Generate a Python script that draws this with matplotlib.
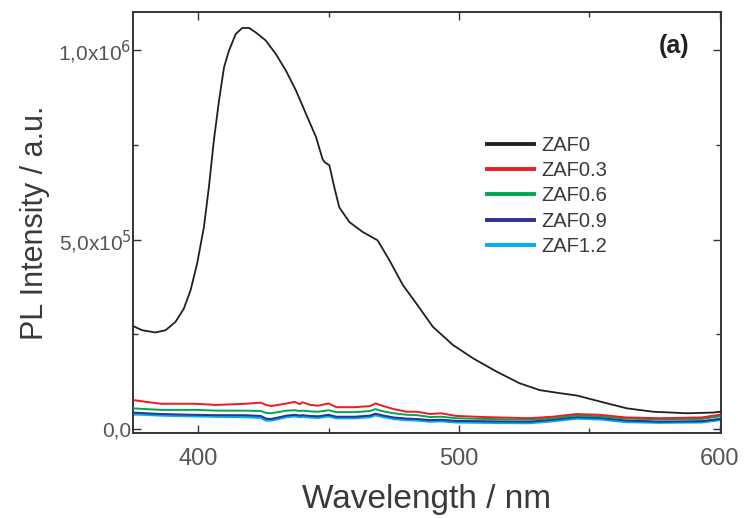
import numpy as np
import matplotlib
matplotlib.use('Agg')
import matplotlib.pyplot as plt
from matplotlib.ticker import FixedLocator

plt.rcParams['font.family'] = ['Liberation Sans', 'DejaVu Sans']

# ZAF0 (black) spectrum
wl_zaf0 = [375, 378.5, 383.6, 387.5, 391.3, 394.5, 397.1, 399.6, 402.2, 404.1, 406, 408,
           409.9, 411.8, 414.4, 416.9, 419.5, 422.1, 425.9, 429.8, 433.6, 437.5, 441.3,
           445.2, 447.7, 448.5, 450.3, 452.2, 454.1, 458, 463.1, 468.8, 473.3, 478.5,
           483.6, 490, 497.7, 505.4, 514.4, 523.3, 531, 538.7, 545.1, 554.1, 564.4,
           574.6, 587.5, 597.7, 600]
zaf0 = [0.272, 0.261, 0.255, 0.261, 0.283, 0.318, 0.367, 0.437, 0.533, 0.638, 0.761, 0.867,
        0.954, 0.998, 1.042, 1.058, 1.058, 1.046, 1.025, 0.989, 0.946, 0.893, 0.832,
        0.770, 0.712, 0.704, 0.696, 0.638, 0.585, 0.546, 0.520, 0.498, 0.446, 0.380,
        0.332, 0.270, 0.222, 0.187, 0.152, 0.121, 0.103, 0.095, 0.089, 0.073, 0.055,
        0.046, 0.042, 0.044, 0.046]

# doped samples, common wavelength points
wl_low = [375, 380, 386, 392, 399, 407, 418, 424, 426, 428, 434, 437, 439, 440, 443, 446,
          450, 453, 460, 466, 468, 471, 475, 480, 484, 489, 493, 499, 510, 527, 536, 545,
          554, 564, 577, 593, 600]
zaf03 = [0.077, 0.072, 0.067, 0.067, 0.067, 0.064, 0.067, 0.070, 0.064, 0.061, 0.068, 0.072,
         0.066, 0.071, 0.064, 0.062, 0.068, 0.058, 0.058, 0.061, 0.068, 0.061, 0.053, 0.046,
         0.046, 0.040, 0.042, 0.035, 0.032, 0.029, 0.033, 0.040, 0.038, 0.031, 0.029, 0.031,
         0.038]
zaf06 = [0.055, 0.053, 0.051, 0.051, 0.051, 0.049, 0.049, 0.048, 0.043, 0.042, 0.049, 0.050,
         0.048, 0.049, 0.047, 0.046, 0.050, 0.045, 0.045, 0.048, 0.053, 0.047, 0.042, 0.038,
         0.037, 0.032, 0.033, 0.029, 0.027, 0.025, 0.029, 0.036, 0.034, 0.028, 0.026, 0.027,
         0.034]
zaf09 = [0.044, 0.042, 0.040, 0.039, 0.038, 0.037, 0.037, 0.035, 0.028, 0.027, 0.036, 0.038,
         0.036, 0.037, 0.035, 0.034, 0.038, 0.033, 0.033, 0.036, 0.041, 0.036, 0.031, 0.028,
         0.027, 0.024, 0.025, 0.022, 0.021, 0.020, 0.025, 0.032, 0.030, 0.023, 0.020, 0.021,
         0.027]
zaf12 = [0.040, 0.039, 0.037, 0.036, 0.035, 0.034, 0.033, 0.031, 0.024, 0.024, 0.033, 0.035,
         0.033, 0.034, 0.032, 0.031, 0.035, 0.030, 0.030, 0.033, 0.038, 0.033, 0.028, 0.025,
         0.024, 0.021, 0.022, 0.019, 0.018, 0.017, 0.022, 0.029, 0.027, 0.020, 0.018, 0.019,
         0.025]

labels = ['ZAF0', 'ZAF0.3', 'ZAF0.6', 'ZAF0.9', 'ZAF1.2']
colors = ['#231f20', '#ed1c24', '#00a650', '#2e3192', '#00aeef']

fig = plt.figure(figsize=(7.48, 5.18), dpi=100)
ax = fig.add_axes([133/748, 1-433/518, (721-133)/748, (433-12)/518])

ax.plot(wl_zaf0, np.array(zaf0)*1e6, color=colors[0], lw=1.3, label=labels[0], zorder=6)
ax.plot(wl_low, np.array(zaf03)*1e6, color=colors[1], lw=1.4, label=labels[1], zorder=5)
ax.plot(wl_low, np.array(zaf06)*1e6, color=colors[2], lw=1.4, label=labels[2], zorder=4)
ax.plot(wl_low, np.array(zaf09)*1e6, color=colors[3], lw=1.4, label=labels[3], zorder=3)
ax.plot(wl_low, np.array(zaf12)*1e6, color=colors[4], lw=2.2, label=labels[4], zorder=2)

ax.set_xlim(375, 600.5)
ax.set_ylim(-1e4, 1.1e6)

ax.xaxis.set_major_locator(FixedLocator([400, 500, 600]))
ax.xaxis.set_minor_locator(FixedLocator([450, 550]))
ax.yaxis.set_major_locator(FixedLocator([0, 5e5, 1e6]))
ax.yaxis.set_minor_locator(FixedLocator([2.5e5, 7.5e5]))
ax.set_yticklabels(['0,0', r'5,0x10$^5$', r'1,0x10$^6$'])

ax.tick_params(which='both', direction='in', top=True, right=True, color='#333333', width=1.0)
ax.tick_params(which='major', length=6)
ax.tick_params(which='minor', length=3.5)
ax.tick_params(axis='x', labelsize=17, labelcolor='#555555', pad=11)
ax.tick_params(axis='y', labelsize=15, labelcolor='#555555', pad=1)
for s in ax.spines.values():
    s.set_color('#333333')
    s.set_linewidth(1.4)

ax.set_xlabel('Wavelength / nm', fontsize=24, color='#3a3a3a', labelpad=10)
ax.set_ylabel('PL Intensity / a.u.', fontsize=22, color='#3a3a3a', labelpad=6)

ax.text(0.947, 0.92, '(a)', transform=ax.transAxes, fontsize=18, fontweight='bold',
        color='#222222', ha='right', va='center')

leg = ax.legend(loc='upper left', bbox_to_anchor=(487/748, 1-136/518),
                bbox_transform=fig.transFigure, frameon=False, fontsize=14.5,
                handlelength=2.35, handletextpad=0.35, labelspacing=0.31,
                borderpad=0, borderaxespad=0)
for h in leg.get_lines():
    h.set_linewidth(2.8)
for t in leg.get_texts():
    t.set_color('#3a3a3a')

fig.savefig('out.png', dpi=100)
